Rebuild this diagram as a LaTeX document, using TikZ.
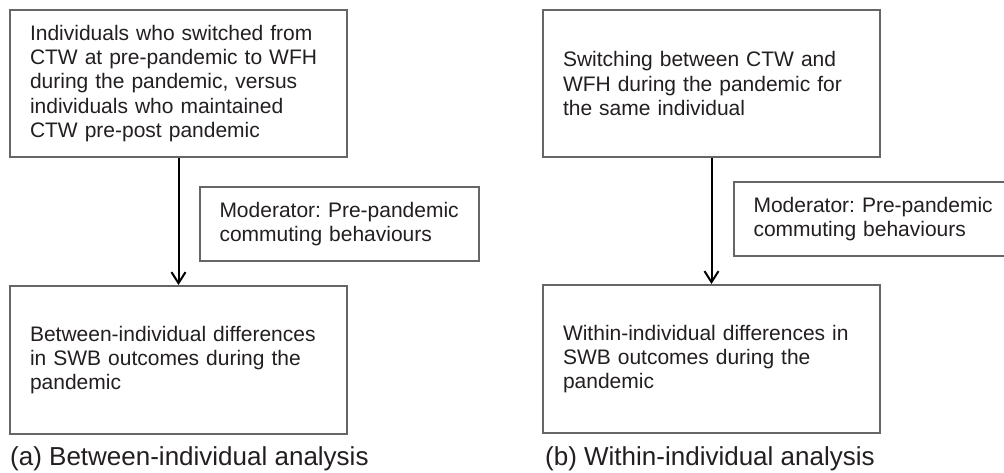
\documentclass[tikz,border=0pt]{standalone}
\usepackage{fontspec}
\setmainfont{Liberation Sans}
\frenchspacing
\usetikzlibrary{arrows.meta}
\definecolor{boxgrey}{HTML}{666666}
\definecolor{txt}{HTML}{231F20}
\begin{document}
\begin{tikzpicture}[x=1pt,y=-1pt,
  bigbox/.style={draw=boxgrey, line width=2pt, fill=white, minimum width=337pt,
    text width=297pt, inner xsep=20pt, inner ysep=0pt, align=left, text=txt,
    font=\fontsize{21}{24.3}\selectfont\frenchspacing},
  modbox/.style={draw=boxgrey, line width=2pt, fill=white, minimum width=279pt,
    minimum height=74pt, text width=240pt, inner xsep=19.5pt, inner ysep=0pt,
    align=left, text=txt, font=\fontsize{21}{24.3}\selectfont\frenchspacing},
  caption/.style={anchor=base west, inner sep=0pt, text=txt, font=\fontsize{26}{30}\selectfont},
  flow/.style={draw=black, line width=2pt, -{Straight Barb[length=11pt,width=14pt,line width=2pt]}}
]
\useasboundingbox (0,0) rectangle (1004,472);
\clip (0,0) rectangle (1004,472);
\fill[white] (0,0) rectangle (1004,472);

% (a) Between-individual analysis
\node[bigbox, minimum height=147pt] (a1) at (178.5,83.5)
  {Individuals who switched from\\CTW at pre-pandemic to WFH\\during the pandemic, versus\\individuals who maintained\\CTW pre-post pandemic};
\node[bigbox, minimum height=148pt] (a2) at (178.5,360)
  {Between-individual differences\\in SWB outcomes during the\\pandemic};
\node[modbox] (am) at (339.5,224) {\mbox{Moderator: Pre-pandemic}\\\mbox{commuting behaviours}};
\draw[flow] (a1.south) -- (a2.north);
\node[caption] (ac) at (10,465) {(a) Between-individual analysis};

% (b) Within-individual analysis
\node[bigbox, minimum height=147pt] (b1) at (711.5,83.5)
  {Switching between CTW and\\WFH during the pandemic for\\the same individual};
\node[bigbox, minimum height=148pt] (b2) at (711.5,359)
  {Within-individual differences in\\SWB outcomes during the\\pandemic};
\node[modbox] (bm) at (873.5,219) {\mbox{Moderator: Pre-pandemic}\\\mbox{commuting behaviours}};
\draw[flow] (b1.south) -- (b2.north);
\node[caption] (bc) at (545,465) {(b) Within-individual analysis};
\end{tikzpicture}
\end{document}
